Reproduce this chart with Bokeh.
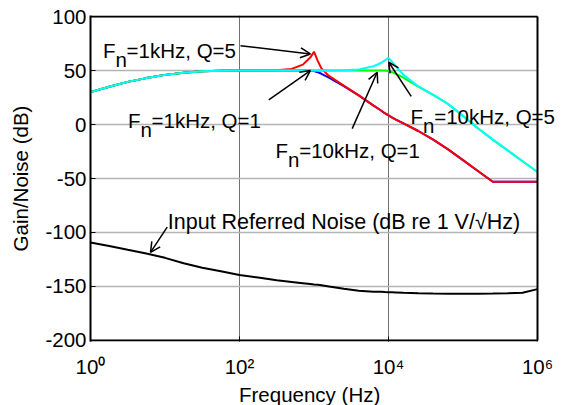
from bokeh.plotting import figure
from bokeh.models import (FixedTicker, Label, Arrow, OpenHead, Title,
                          ColumnDataSource, Range1d)
from bokeh.embed import file_html
from bokeh.resources import INLINE

# ---------------- data ----------------
freq_hz = [1, 1.78, 3.16, 5.62, 10, 17.8, 31.6, 56.2, 100, 178, 316, 501, 708, 891,
           1000, 1122, 1259, 1585, 2512, 3981, 6310, 7943, 8913, 10000, 11220, 12589,
           15849, 25119, 39811, 63096, 100000, 158489, 251189, 398107, 630957, 1000000]

gain_fn1k_q1 = [30, 35, 39.5, 43, 46, 48, 49.3, 49.8, 50, 50, 50, 50, 50, 49.8,
                49.5, 48.5, 47, 43.5, 35.5, 27, 17.5, 13, 10.5, 8.5, 6.5, 4.5,
                1, -6, -14, -23, -33, -43, -53, -53, -53, -53]

gain_fn1k_q5 = [30, 35, 39.5, 43, 46, 48, 49.3, 49.8, 50, 50, 50.2, 51.5, 55.5, 62,
                67.5, 59, 52, 45, 36, 27, 17.5, 13, 10.5, 8.5, 6.5, 4.5,
                1, -6, -14, -23, -33, -43, -53, -53, -53, -53]

gain_fn10k_q1 = [30, 35, 39.5, 43, 46, 48, 49.3, 49.8, 50, 50, 50, 50, 50, 50,
                 50, 50, 50, 50, 50, 50, 50, 50, 50, 49.5, 48.5, 47,
                 43.5, 35, 27.5, 19, 8, -3.5, -14, -24, -34, -44]

gain_fn10k_q5 = [30, 35, 39.5, 43, 46, 48, 49.3, 49.8, 50, 50, 50, 50, 50, 50,
                 50, 50, 50, 50, 50.3, 51, 54, 57, 59.5, 61.7, 58, 54,
                 46, 35.5, 27.5, 19, 8, -3.5, -14, -24, -34, -44]

noise_db = [-109.3, -112.5, -116, -119.5, -123.5, -128.5, -132.7, -136, -139.3, -141.8,
            -144.3, -145.8, -147, -147.8, -148.2, -148.5, -148.9, -150, -152.2, -154,
            -154.8, -155, -155.2, -155.3, -155.4, -155.5, -155.8, -156.3, -156.6, -156.8,
            -156.8, -156.7, -156.6, -156.4, -155.8, -152.5]

y_ticks = [-200, -150, -100, -50, 0, 50, 100]
x_ticks = [1, 100, 10000, 1000000]
x_tick_exps = ["0", "2", "4", "6"]

FONT = "Liberation Sans"
FS = "20.5px"
SUP = {"0": "\u2070", "2": "\u00b2", "4": "\u2074", "6": "\u2076"}

src = ColumnDataSource(dict(f=freq_hz, b=gain_fn1k_q1, r=gain_fn1k_q5,
                            g=gain_fn10k_q1, c=gain_fn10k_q5, n=noise_db))

# frame: x from 10^0 (px 90) ; 74.5 px per decade ; extended to the canvas edge so that
# the right-hand annotation is not clipped.  y: -200..100 over 325 px.
x_end = 10 ** (6 + 28 / 74.5)
p = figure(width=565, height=405, x_axis_type="log",
           x_range=Range1d(1, x_end), y_range=Range1d(-201, 101),
           output_backend="svg", toolbar_location=None,
           min_border_left=90, min_border_right=0, min_border_top=15, min_border_bottom=63)

p.background_fill_color = "white"
p.border_fill_color = "white"
p.outline_line_color = None

# vertical grid lines at the inner decades
p.xgrid.ticker = FixedTicker(ticks=x_ticks[1:-1], minor_ticks=[])
p.xgrid.grid_line_color = "#707070"
p.xgrid.grid_line_width = 1
p.ygrid.visible = False

# horizontal grid lines limited to the plotted decade span
p.segment(x0=[x_ticks[0]] * len(y_ticks), x1=[x_ticks[-1]] * len(y_ticks),
          y0=y_ticks, y1=y_ticks, line_color="#b4b4b4", line_width=1.5)

# bottom axis with 10^k labels
xa = p.xaxis[0]
xa.ticker = FixedTicker(ticks=x_ticks, minor_ticks=[])
xa.major_label_overrides = {t: "10" + SUP[e] for t, e in zip(x_ticks, x_tick_exps)}
xa.major_label_text_font = FONT
xa.major_label_text_font_size = FS
xa.major_label_text_color = "black"
xa.major_label_standoff = 13
xa.major_tick_in = 5
xa.major_tick_out = 0
xa.minor_tick_line_color = None
xa.axis_line_color = None
xa.major_tick_line_color = "black"

p.add_layout(Title(text="Frequency (Hz)", align="left", offset=148.5, standoff=0,
                   text_font=FONT, text_font_size=FS, text_font_style="normal",
                   text_color="black"), "below")

# left axis
ya = p.yaxis[0]
ya.ticker = FixedTicker(ticks=y_ticks, minor_ticks=[])
ya.major_label_overrides = {t: str(t) for t in y_ticks}
ya.major_label_text_font = FONT
ya.major_label_text_font_size = FS
ya.major_label_text_color = "black"
ya.major_label_standoff = 4
ya.major_tick_in = 5
ya.major_tick_out = 0
ya.minor_tick_line_color = None
ya.axis_line_color = "black"
ya.axis_line_width = 2
ya.axis_label = "Gain/Noise (dB)"
ya.axis_label_text_font = FONT
ya.axis_label_text_font_size = FS
ya.axis_label_text_font_style = "normal"
ya.axis_label_text_color = "black"
ya.axis_label_standoff = 10

# curves
p.line("f", "b", source=src, line_color="#0000ff", line_width=2)
p.line("f", "r", source=src, line_color="#ff0000", line_width=2)
p.line("f", "g", source=src, line_color="#00ff00", line_width=2)
p.line("f", "c", source=src, line_color="#00ffff", line_width=2)
p.line("f", "n", source=src, line_color="black", line_width=2)

# plot box (top, bottom, right) at the axis limits
x_lo, x_hi, y_lo, y_hi = x_ticks[0], x_ticks[-1], y_ticks[0], y_ticks[-1]
p.segment(x0=[x_lo, x_lo, x_hi], y0=[y_hi, y_lo, y_lo],
          x1=[x_hi, x_hi, x_hi], y1=[y_hi, y_lo, y_hi],
          line_color="black", line_width=2)

# annotations with subscript n
def fn_label(x, y, rest):
    kw = dict(x=x, y=y, text_align="left", text_baseline="alphabetic",
              text_font=FONT, text_font_size=FS, text_color="black")
    p.add_layout(Label(text="F", **kw))
    p.add_layout(Label(text="n", x_offset=12.5, y_offset=-9.3, **kw))
    p.add_layout(Label(text=rest, x_offset=23.6, **kw))

fn_label(1.47, 68.5, "=1kHz, Q=5")
fn_label(3.18, 3.8, "=1kHz, Q=1")
fn_label(305, -23.9, "=10kHz, Q=1")
fn_label(19800, 7.5, "=10kHz, Q=5")
p.add_layout(Label(x=10.9, y=-89.9, text="Input Referred Noise (dB re 1 V/\u221aHz)",
                   text_align="left", text_baseline="alphabetic",
                   text_font=FONT, text_font_size="21.5px", text_color="black"))

def arrow(x0, y0, x1, y1):
    p.add_layout(Arrow(end=OpenHead(size=10, line_width=1.5, line_color="black"),
                       x_start=x0, y_start=y0, x_end=x1, y_end=y1,
                       line_width=1.5, line_color="black"))

arrow(103, 73, 894, 65.4)
arrow(247, 22.9, 894, 50)
arrow(3258, -3.8, 7050, 48.4)
arrow(20180, 26, 10090, 57.7)
arrow(10.7, -95, 6.39, -118.5)

open("out.html", "w").write(file_html(p, INLINE))
